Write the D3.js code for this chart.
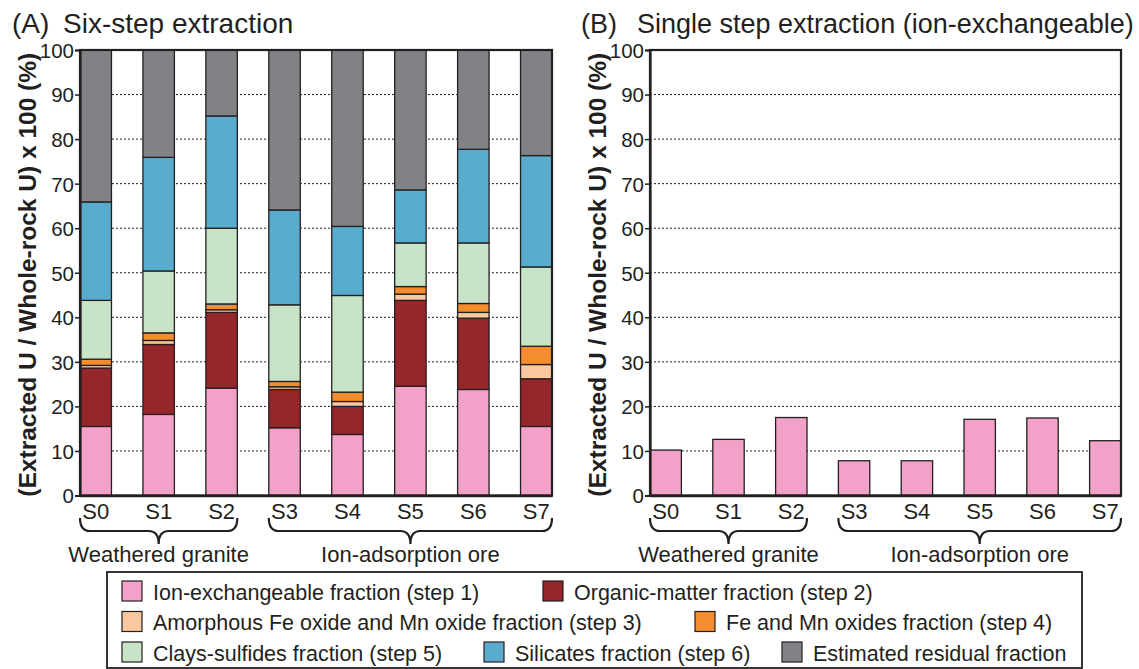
<!DOCTYPE html>
<html>
<head>
<meta charset="utf-8">
<script src="https://cdn.jsdelivr.net/npm/d3@7"></script>
<style>
  html, body { margin: 0; padding: 0; background: #fff; }
  svg { display: block; font-family: "Liberation Sans", Arial, sans-serif; }
</style>
</head>
<body>
<svg id="chart" width="1139" height="669"></svg>
<script>
// ---------- data ----------
const samples = ["S0", "S1", "S2", "S3", "S4", "S5", "S6", "S7"];
const yTicks = [0, 10, 20, 30, 40, 50, 60, 70, 80, 90, 100];

const fractionNames = [
  "Ion-exchangeable fraction (step 1)",
  "Organic-matter fraction (step 2)",
  "Amorphous Fe oxide and Mn oxide fraction (step 3)",
  "Fe and Mn oxides fraction (step 4)",
  "Clays-sulfides fraction (step 5)",
  "Silicates fraction (step 6)",
  "Estimated residual fraction"
];
const fractionColors = ["#f2a2c8", "#95262a", "#fbc8a0", "#f58c2e", "#c8e4c8", "#5aaccf", "#818285"];

// six-step extraction (%), per sample
const step1 = [15.5, 18.2, 24.1, 15.2, 13.7, 24.5, 23.8, 15.5];
const step2 = [13.1, 15.7, 17.0, 8.6, 6.3, 19.3, 16.0, 10.7];
const step3 = [0.6, 0.9, 0.6, 0.6, 1.1, 1.4, 1.3, 3.2];
const step4 = [1.4, 1.7, 1.3, 1.2, 2.1, 1.7, 2.0, 4.1];
const step5 = [13.2, 13.9, 17.0, 17.2, 21.7, 9.8, 13.6, 17.8];
const step6 = [22.1, 25.5, 25.2, 21.3, 15.5, 11.9, 21.0, 25.0];
const residual = [34.1, 24.1, 14.8, 35.9, 39.6, 31.4, 22.3, 23.7];

// single-step (ion-exchangeable) extraction (%)
const singleStep = [10.2, 12.6, 17.5, 7.8, 7.8, 17.1, 17.4, 12.3];

const groups = [
  { label: "Weathered granite", from: "S0", to: "S2" },
  { label: "Ion-adsorption ore", from: "S3", to: "S7" }
];

const yTitle = "(Extracted U / Whole-rock U) x 100 (%)";

// ---------- drawing ----------
const svg = d3.select("#chart");
const ink = "#231f20";
const seriesArrays = [step1, step2, step3, step4, step5, step6, residual];
const tableA = samples.map((s, i) => {
  const o = { sample: s };
  seriesArrays.forEach((arr, k) => { o["f" + k] = arr[i]; });
  return o;
});
const keys = seriesArrays.map((_, k) => "f" + k);
const stacked = d3.stack().keys(keys)(tableA);

const plotTop = 50, plotBottom = 495.5;
const y = d3.scaleLinear().domain([0, 100]).range([plotBottom, plotTop]);

function panel(x0, x1, title, drawBars) {
  const g = svg.append("g");
  const x = d3.scaleBand().domain(samples).range([x0, x1]).paddingInner(0.5).paddingOuter(0);

  // title
  g.append("text").attr("x", title.px).attr("y", 33).attr("font-size", title.fs).attr("fill", ink).text(title.tag);
  g.append("text").attr("x", title.tx).attr("y", 33).attr("font-size", title.fs).attr("fill", ink).text(title.text);

  // grid
  g.append("g").selectAll("line").data(yTicks.filter(t => t > 0 && t < 100)).join("line")
    .attr("x1", x0).attr("x2", x1).attr("y1", d => y(d)).attr("y2", d => y(d))
    .attr("stroke", ink).attr("stroke-width", 1).attr("stroke-dasharray", "2,2");

  drawBars(g, x);

  // frame
  g.append("rect").attr("x", x0).attr("y", plotTop).attr("width", x1 - x0).attr("height", plotBottom - plotTop)
    .attr("fill", "none").attr("stroke", ink).attr("stroke-width", 2.2);

  // y axis
  const ya = g.append("g").attr("transform", `translate(${x0},0)`)
    .call(d3.axisLeft(y).tickValues(yTicks).tickSize(5).tickPadding(1).tickFormat(d3.format("d")));
  ya.select(".domain").attr("stroke", ink).attr("stroke-width", 2.2);
  ya.selectAll(".tick line").attr("stroke", ink).attr("stroke-width", 1.5);
  ya.selectAll(".tick text").attr("font-size", 20.5).attr("fill", ink)
    .attr("font-family", "Liberation Sans, Arial, sans-serif").attr("dy", "0.36em");

  // x axis
  const xa = g.append("g").attr("transform", `translate(0,${plotBottom})`)
    .call(d3.axisBottom(x).tickSize(0).tickPadding(0));
  xa.select(".domain").attr("stroke", ink).attr("stroke-width", 2.5);
  xa.selectAll(".tick text").attr("font-size", 22).attr("fill", ink)
    .attr("font-family", "Liberation Sans, Arial, sans-serif").attr("dy", null).attr("y", 23);

  // y title
  const ycenter = (plotTop + plotBottom) / 2 + 2;
  g.append("text").attr("transform", `translate(${x0 - 44},${ycenter}) rotate(-90)`)
    .attr("text-anchor", "middle").attr("font-size", 24.5).attr("font-weight", "bold").attr("fill", ink)
    .text(yTitle);

  // group braces
  groups.forEach(gr => {
    const a = x(gr.from), b = x(gr.to) + x.bandwidth();
    const c = (a + b) / 2;
    const yt = 518, yh = 531, ytip = 544, r = 10;
    const p = d3.path();
    p.moveTo(a, yt);
    p.quadraticCurveTo(a, yh, a + r, yh);
    p.lineTo(c - r, yh);
    p.quadraticCurveTo(c, yh, c, ytip);
    p.quadraticCurveTo(c, yh, c + r, yh);
    p.lineTo(b - r, yh);
    p.quadraticCurveTo(b, yh, b, yt);
    g.append("path").attr("d", p.toString()).attr("fill", "none").attr("stroke", ink).attr("stroke-width", 2.2);
    g.append("text").attr("x", c).attr("y", 562).attr("text-anchor", "middle")
      .attr("font-size", 22).attr("fill", ink).text(gr.label);
  });
}

panel(80, 552, { tag: "(A)", px: 12, text: "Six-step extraction", tx: 63, fs: 28 }, (g, x) => {
  g.append("g").selectAll("g").data(stacked).join("g")
    .attr("fill", (d, i) => fractionColors[i])
    .selectAll("rect").data(d => d).join("rect")
    .attr("x", d => x(d.data.sample)).attr("width", x.bandwidth())
    .attr("y", d => y(d[1])).attr("height", d => y(d[0]) - y(d[1]))
    .attr("stroke", ink).attr("stroke-width", 1.3);
});

panel(650, 1121, { tag: "(B)", px: 581, text: "Single step extraction (ion-exchangeable)", tx: 637, fs: 27 }, (g, x) => {
  g.append("g").selectAll("rect").data(samples).join("rect")
    .attr("x", d => x(d)).attr("width", x.bandwidth())
    .attr("y", (d, i) => y(singleStep[i])).attr("height", (d, i) => y(0) - y(singleStep[i]))
    .attr("fill", fractionColors[0]).attr("stroke", ink).attr("stroke-width", 1.3);
});

// ---------- legend ----------
const legendLayout = [
  { row: 0, x: 122 }, { row: 0, x: 543 },
  { row: 1, x: 122 }, { row: 1, x: 695 },
  { row: 2, x: 122 }, { row: 2, x: 484 }, { row: 2, x: 782 }
];
const rowY = [581, 611.5, 642];
svg.append("rect").attr("x", 107).attr("y", 572).attr("width", 975).attr("height", 96)
  .attr("fill", "none").attr("stroke", ink).attr("stroke-width", 1.8);
const lg = svg.append("g").selectAll("g").data(fractionNames).join("g")
  .attr("transform", (d, i) => `translate(${legendLayout[i].x},${rowY[legendLayout[i].row]})`);
lg.append("rect").attr("width", 20).attr("height", 20)
  .attr("fill", (d, i) => fractionColors[i]).attr("stroke", ink).attr("stroke-width", 1.2);
lg.append("text").attr("x", 31).attr("y", 18.5).attr("font-size", 21.5).attr("fill", ink).text(d => d);
</script>
</body>
</html>
